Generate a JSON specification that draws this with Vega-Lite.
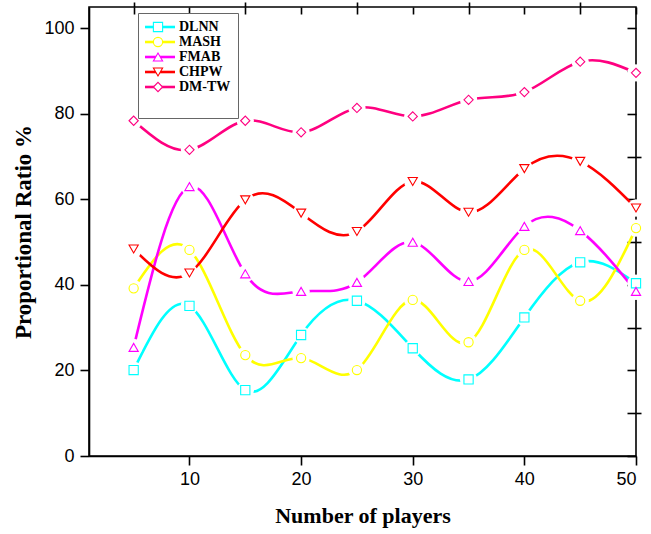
{
  "$schema": "https://vega.github.io/schema/vega-lite/v6.json",
  "width": 547,
  "height": 449,
  "autosize": {"type": "none"},
  "padding": {"left": 89, "top": 7, "right": 15, "bottom": 78},
  "background": "white",
  "config": {
    "view": {"stroke": "#000", "strokeWidth": 1.6},
    "axis": {
      "grid": false,
      "domainColor": "#000",
      "domainWidth": 1.6,
      "tickColor": "#000",
      "tickWidth": 1.6,
      "labelFont": "Liberation Sans",
      "labelFontSize": 18,
      "labelColor": "#000",
      "titleFont": "Liberation Serif",
      "titleFontWeight": "bold",
      "titleFontSize": 22,
      "titleColor": "#000"
    }
  },
  "data": {
    "values": [
      {"players": 5, "series": "DLNN", "ratio": 20.1},
      {"players": 10, "series": "DLNN", "ratio": 35.1},
      {"players": 15, "series": "DLNN", "ratio": 15.4},
      {"players": 20, "series": "DLNN", "ratio": 28.3},
      {"players": 25, "series": "DLNN", "ratio": 36.3},
      {"players": 30, "series": "DLNN", "ratio": 25.2},
      {"players": 35, "series": "DLNN", "ratio": 17.9},
      {"players": 40, "series": "DLNN", "ratio": 32.4},
      {"players": 45, "series": "DLNN", "ratio": 45.3},
      {"players": 50, "series": "DLNN", "ratio": 40.4},
      {"players": 5, "series": "MASH", "ratio": 39.2},
      {"players": 10, "series": "MASH", "ratio": 48.2},
      {"players": 15, "series": "MASH", "ratio": 23.6},
      {"players": 20, "series": "MASH", "ratio": 22.9},
      {"players": 25, "series": "MASH", "ratio": 20.1},
      {"players": 30, "series": "MASH", "ratio": 36.5},
      {"players": 35, "series": "MASH", "ratio": 26.6},
      {"players": 40, "series": "MASH", "ratio": 48.2},
      {"players": 45, "series": "MASH", "ratio": 36.3},
      {"players": 50, "series": "MASH", "ratio": 53.3},
      {"players": 5, "series": "FMAB", "ratio": 25.4},
      {"players": 10, "series": "FMAB", "ratio": 63.0},
      {"players": 15, "series": "FMAB", "ratio": 42.6},
      {"players": 20, "series": "FMAB", "ratio": 38.5},
      {"players": 25, "series": "FMAB", "ratio": 40.6},
      {"players": 30, "series": "FMAB", "ratio": 50.0},
      {"players": 35, "series": "FMAB", "ratio": 40.8},
      {"players": 40, "series": "FMAB", "ratio": 53.7},
      {"players": 45, "series": "FMAB", "ratio": 52.7},
      {"players": 50, "series": "FMAB", "ratio": 38.5},
      {"players": 5, "series": "CHPW", "ratio": 48.4},
      {"players": 10, "series": "CHPW", "ratio": 42.8},
      {"players": 15, "series": "CHPW", "ratio": 59.9},
      {"players": 20, "series": "CHPW", "ratio": 56.8},
      {"players": 25, "series": "CHPW", "ratio": 52.5},
      {"players": 30, "series": "CHPW", "ratio": 64.2},
      {"players": 35, "series": "CHPW", "ratio": 57.0},
      {"players": 40, "series": "CHPW", "ratio": 67.2},
      {"players": 45, "series": "CHPW", "ratio": 68.9},
      {"players": 50, "series": "CHPW", "ratio": 58.0},
      {"players": 5, "series": "DM-TW", "ratio": 78.4},
      {"players": 10, "series": "DM-TW", "ratio": 71.6},
      {"players": 15, "series": "DM-TW", "ratio": 78.4},
      {"players": 20, "series": "DM-TW", "ratio": 75.7},
      {"players": 25, "series": "DM-TW", "ratio": 81.4},
      {"players": 30, "series": "DM-TW", "ratio": 79.4},
      {"players": 35, "series": "DM-TW", "ratio": 83.3},
      {"players": 40, "series": "DM-TW", "ratio": 85.1},
      {"players": 45, "series": "DM-TW", "ratio": 92.2},
      {"players": 50, "series": "DM-TW", "ratio": 89.6}
    ]
  },
  "layer": [
    {
      "mark": {"type": "line", "interpolate": "natural", "strokeWidth": 2.6},
      "encoding": {
        "x": {"field": "players", "type": "quantitative", "scale": {"domain": [1, 50], "nice": false, "zero": false},
              "axis": {"values": [10, 20, 30, 40, 50], "tickSize": 9, "labelPadding": 5, "title": "Number of players", "titlePadding": 17}},
        "y": {"field": "ratio", "type": "quantitative", "scale": {"domain": [0, 105], "nice": false},
              "axis": {"values": [0, 20, 40, 60, 80, 100], "tickSize": 9, "labelPadding": 6, "title": "Proportional Ratio %", "titlePadding": 8, "titleFontSize": 23}},
        "color": {"field": "series", "type": "nominal", "sort": ["DLNN", "MASH", "FMAB", "CHPW", "DM-TW"],
                  "scale": {"range": ["#00FFFF", "#FFFF00", "#FF00FF", "#FF0000", "#FF0080"]},
                  "legend": {"orient": "none", "legendX": 49, "legendY": 6, "zindex": 1, "title": " ", "titleOrient": "bottom", "titleFontSize": 13, "titlePadding": 4,
                             "symbolType": "M-5,-0.43H5V0.43H-5Z", "symbolSize": 36, "symbolStrokeWidth": 0, "symbolOffset": 8,
                             "labelOffset": 12, "labelFont": "Liberation Serif", "labelFontWeight": "bold", "labelFontSize": 14, "labelColor": "#000",
                             "rowPadding": 1, "padding": 7, "strokeColor": "#666", "fillColor": "white",
                             "encode": {"symbols": {"update": {"fill": {"scale": "color", "field": "value"}, "fillOpacity": {"value": 1}, "stroke": {"value": "transparent"}, "strokeWidth": {"value": 0}, "shape": {"value": "M-5,-0.43H5V0.43H-5Z"}, "opacity": {"value": 1}}}}}}
      }
    },
    {
      "mark": {"type": "point", "shape": "circle", "filled": true, "color": "white", "size": 300, "opacity": 1},
      "encoding": {
        "x": {"field": "players", "type": "quantitative",
              "axis": {"values": [5, 15, 25, 35, 45], "tickSize": 5, "labels": false, "title": null, "domain": false}},
        "y": {"field": "ratio", "type": "quantitative",
              "axis": {"values": [10, 30, 50, 70, 90], "tickSize": 5, "labels": false, "title": null, "domain": false}},
        "detail": {"field": "series", "type": "nominal"}
      }
    },
    {
      "mark": {"type": "point", "filled": false, "fill": "white", "fillOpacity": 1, "strokeWidth": 1.1, "size": 85, "opacity": 1},
      "encoding": {
        "x": {"field": "players", "type": "quantitative",
              "axis": {"orient": "top", "values": [5, 10, 15, 20, 25, 30, 35, 40, 45, 50], "tickSize": -7, "labels": false, "title": null, "domain": false}},
        "y": {"field": "ratio", "type": "quantitative",
              "axis": {"orient": "right", "values": [0, 10, 20, 30, 40, 50, 60, 70, 80, 90, 100], "tickSize": -9, "labels": false, "title": null, "domain": false}},
        "stroke": {"field": "series", "type": "nominal",
                  "scale": {"domain": ["DLNN", "MASH", "FMAB", "CHPW", "DM-TW"], "range": ["#00FFFF", "#FFFF00", "#FF00FF", "#FF0000", "#FF0080"]},
                  "legend": {"orient": "none", "legendX": 49, "legendY": 6, "title": null, "padding": 7, "zindex": 2,
                             "symbolSize": 85, "symbolStrokeWidth": 1.1, "symbolOffset": 6, "symbolFillColor": "white",
                             "labelExpr": "' '", "labelFont": "Liberation Serif", "labelFontWeight": "bold", "labelFontSize": 14, "rowPadding": 1}},
        "shape": {"field": "series", "type": "nominal",
                  "scale": {"domain": ["DLNN", "MASH", "FMAB", "CHPW", "DM-TW"], "range": ["square", "circle", "triangle-up", "triangle-down", "diamond"]},
                  "legend": {"orient": "none", "legendX": 49, "legendY": 6, "title": null, "padding": 7, "zindex": 2,
                             "symbolSize": 85, "symbolStrokeWidth": 1.1, "symbolOffset": 6, "symbolFillColor": "white",
                             "labelExpr": "' '", "labelFont": "Liberation Serif", "labelFontWeight": "bold", "labelFontSize": 14, "rowPadding": 1}}
      }
    }
  ],
  "resolve": {"axis": {"x": "independent", "y": "independent"}}
}
